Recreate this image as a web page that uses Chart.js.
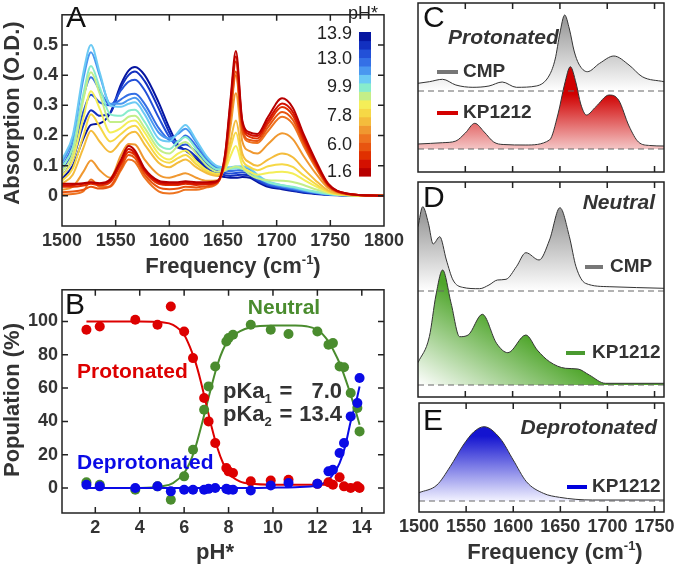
<!DOCTYPE html>
<html>
<head>
<meta charset="utf-8">
<script src="https://cdn.jsdelivr.net/npm/chart.js@4.4.0/dist/chart.umd.min.js"></script>
<style>
body { margin: 0; background: #fff; width: 680px; height: 567px; position: relative; overflow: hidden; }
.box { position: absolute; overflow: hidden; }
canvas { position: absolute; }
</style>
</head>
<body>
<div class="box" style="left:0;top:0;width:410px;height:285px"><canvas id="chartA" width="410" height="285" style="left:0;top:0"></canvas></div>
<div class="box" style="left:0;top:275px;width:410px;height:292px"><canvas id="chartB" width="410" height="292" style="left:0;top:0"></canvas></div>
<div class="box" style="left:410px;top:0;width:270px;height:178px"><canvas id="chartC" width="270" height="178" style="left:0;top:0"></canvas></div>
<div class="box" style="left:410px;top:178px;width:270px;height:222px"><canvas id="chartD" width="270" height="222" style="left:0;top:0"></canvas></div>
<div class="box" style="left:395px;top:400px;width:285px;height:167px"><canvas id="chartE" width="285" height="167" style="left:0;top:0"></canvas></div>
<script>
const FONT = '"Liberation Sans", Arial, Helvetica, sans-serif';

// ---- A: absorption spectra at each pH*
const freqA = [1500,1510,1520,1527,1535,1545,1555,1562,1568,1577,1590,1600,1608,1615,1625,1635,1645,1652,1657,1662,1668,1675,1682,1692,1705,1715,1725,1736,1748,1765,1800];
const pHA = [1.6, 2.2, 3.8, 4.8, 5.4, 6.0, 6.4, 6.6, 6.9, 7.4, 8.9, 9.9, 12.4, 13.0, 13.2, 13.7, 13.9];
const colorsA = ['#b80000','#d41000','#e03000','#e85510','#ee7420','#f09830','#f4bc3c','#f6d846','#f4ee58','#c4ee88','#88eccc','#6ccaf4','#4a98f0','#3470e6','#2250d8','#1230c0','#0616a0'];
const absA = [
  [.040,.040,.042,.045,.042,.055,.120,.165,.150,.090,.050,.045,.045,.048,.045,.045,.050,.140,.320,.480,.250,.210,.205,.262,.323,.292,.205,.120,.040,.008,0],
  [.035,.036,.040,.044,.040,.050,.112,.155,.142,.085,.045,.040,.040,.044,.040,.040,.048,.135,.308,.462,.243,.203,.198,.250,.306,.278,.195,.114,.038,.008,0],
  [.030,.030,.034,.040,.035,.045,.105,.145,.135,.080,.040,.036,.036,.040,.036,.038,.046,.130,.296,.445,.235,.195,.190,.240,.294,.266,.186,.108,.036,.007,0],
  [.012,.014,.020,.030,.024,.032,.092,.135,.125,.070,.028,.022,.024,.030,.028,.032,.044,.122,.274,.412,.218,.185,.182,.228,.278,.252,.176,.102,.034,.007,0],
  [.004,.006,.015,.054,.030,.030,.085,.120,.112,.060,.015,.008,.012,.020,.020,.028,.042,.120,.266,.400,.212,.178,.175,.215,.262,.238,.166,.096,.032,.006,0],
  [.020,.030,.080,.117,.085,.060,.135,.172,.170,.120,.070,.060,.068,.075,.060,.050,.052,.112,.230,.340,.180,.148,.140,.172,.207,.188,.132,.076,.026,.005,0],
  [.040,.070,.160,.216,.180,.145,.180,.205,.212,.170,.110,.095,.110,.120,.095,.075,.066,.104,.182,.250,.140,.110,.100,.120,.140,.128,.090,.052,.018,.004,0],
  [.050,.090,.200,.270,.230,.180,.205,.225,.232,.190,.125,.110,.125,.135,.105,.080,.070,.096,.160,.210,.120,.095,.085,.098,.105,.096,.068,.040,.014,.003,0],
  [.065,.120,.260,.347,.290,.210,.225,.245,.250,.210,.140,.120,.140,.150,.115,.085,.072,.088,.132,.165,.100,.080,.070,.076,.080,.074,.054,.032,.012,.003,0],
  [.080,.140,.320,.410,.340,.245,.245,.262,.265,.225,.155,.140,.165,.178,.140,.100,.080,.085,.092,.097,.090,.070,.058,.052,.050,.046,.036,.022,.009,.002,0],
  [.095,.160,.340,.430,.360,.270,.265,.282,.285,.245,.170,.155,.180,.195,.155,.112,.088,.088,.090,.092,.090,.080,.062,.045,.035,.030,.022,.014,.006,.002,0],
  [.120,.200,.410,.500,.410,.300,.295,.305,.310,.270,.190,.180,.210,.235,.185,.130,.098,.095,.095,.097,.098,.092,.070,.048,.035,.028,.020,.012,.006,.002,0],
  [.110,.190,.390,.476,.400,.305,.305,.318,.325,.288,.210,.190,.205,.222,.178,.125,.095,.090,.090,.092,.094,.088,.066,.044,.032,.025,.018,.011,.005,.002,0],
  [.095,.170,.330,.393,.350,.300,.320,.335,.338,.305,.225,.185,.180,.200,.165,.118,.090,.084,.082,.084,.086,.080,.060,.040,.030,.023,.016,.010,.005,.002,0],
  [.080,.145,.280,.335,.310,.300,.350,.378,.385,.350,.260,.195,.165,.170,.145,.105,.082,.076,.074,.076,.078,.072,.054,.036,.027,.020,.014,.009,.004,.002,0],
  [.065,.120,.235,.284,.265,.275,.360,.400,.412,.380,.290,.210,.160,.155,.130,.095,.075,.068,.066,.068,.070,.066,.050,.034,.025,.018,.012,.008,.004,.001,0],
  [.055,.100,.190,.235,.240,.275,.370,.415,.427,.400,.310,.225,.170,.150,.122,.088,.068,.062,.060,.060,.062,.060,.046,.030,.022,.016,.010,.006,.003,.001,0]
];
const freqTicksA = [1500, 1550, 1600, 1650, 1700, 1750, 1800];
const absTicksA = [0, 0.1, 0.2, 0.3, 0.4, 0.5];
const barLabels = ['13.9', '13.0', '9.9', '7.8', '6.0', '1.6'];

// ---- B: populations vs pH*
const phPoints = [1.6, 2.2, 3.8, 4.8, 5.4, 6.0, 6.4, 6.9, 7.1, 7.4, 7.9, 8.0, 8.2, 9.0, 9.9, 10.7, 12.0, 12.5, 12.7, 13.0, 13.2, 13.5, 13.8, 13.9];
const protPts = [95, 97, 101, 98, 109, 94, 78, 54, 40, 27, 12, 10, 9, 4, 4.5, 5, 2.5, 3.5, 2, 6.5, 1, 0, 1, 0];
const neutPts = [3.5, 2, -1, 1, -7, 7, 23, 47, 61, 73, 88, 90, 92, 98, 95, 92.5, 94, 86, 87, 73, 72.5, 57, 48, 34];
const deprPts = [2, 1, 0, 1, -2, -1, -1, -1, -0.5, 0, -0.5, -1, -1, -1.5, 1.5, 3, 2.5, 10, 11, 21, 27, 43, 51, 66];
const fitPH = [1.6, 3, 4, 5, 5.5, 6, 6.25, 6.5, 6.75, 7, 7.25, 7.5, 7.75, 8, 8.5, 9, 10, 11, 12, 12.5, 12.75, 13, 13.25, 13.5, 13.75, 13.9];
const protFit = [100, 100, 100, 99.5, 98, 92, 85, 76, 64, 50, 36, 24, 15, 9, 4, 2.5, 2, 2, 2, 2, 2, null, null, null, null, null];
const neutFit = [0, 0, 0, 1, 3, 9, 15, 24, 36, 49, 62, 74, 83, 89, 94, 96.5, 97.5, 97.5, 95, 88, 82, 75, 66, 56, 45, 38];
const deprFit = [0, 0, 0, 0, 0, 0, 0, 0, 0, 0, 0, 0, 0, 0, 0, 0, 0.2, 0.5, 1.5, 5, 9, 15, 25, 40, 52, 61];
const phTicks = [2, 4, 6, 8, 10, 12, 14];
const popTicks = [0, 20, 40, 60, 80, 100];

// ---- C, D, E: reference spectra (height above each baseline)
const cmpProtFreq = [1500, 1512, 1526, 1540, 1558, 1575, 1589, 1604, 1625, 1639, 1645, 1650, 1655, 1660, 1665, 1670, 1679, 1692, 1707, 1723, 1737, 1760];
const cmpProtAbs = [0.077, 0.093, 0.117, 0.06, 0.037, 0.05, 0.09, 0.037, 0.05, 0.16, 0.32, 0.58, 0.76, 0.62, 0.40, 0.27, 0.193, 0.277, 0.35, 0.26, 0.143, 0.093];
const kpProtFreq = [1500, 1526, 1540, 1550, 1560, 1570, 1580, 1590, 1614, 1639, 1648, 1655, 1661, 1667, 1672, 1678, 1688, 1702, 1712, 1723, 1733, 1745, 1760];
const kpProtAbs = [0.05, 0.063, 0.08, 0.16, 0.257, 0.17, 0.07, 0.045, 0.04, 0.09, 0.35, 0.65, 0.823, 0.66, 0.45, 0.34, 0.423, 0.54, 0.49, 0.23, 0.07, 0.035, 0.03];
const cmpNeutFreq = [1500, 1505, 1511, 1516, 1523, 1530, 1537, 1547, 1565, 1575, 1584, 1593, 1604, 1614, 1628, 1639, 1650, 1660, 1667, 1677, 1702, 1760];
const cmpNeutAbs = [0.643, 0.843, 0.677, 0.47, 0.543, 0.31, 0.11, 0.037, 0.023, 0.06, 0.11, 0.117, 0.243, 0.383, 0.31, 0.51, 0.833, 0.543, 0.243, 0.077, 0.043, 0.027];
const kpNeutFreq = [1500, 1512, 1519, 1526, 1535, 1544, 1553, 1568, 1583, 1595, 1614, 1626, 1639, 1656, 1669, 1681, 1698, 1760];
const kpNeutAbs = [0.223, 0.483, 0.9, 1.15, 0.817, 0.483, 0.5, 0.707, 0.417, 0.323, 0.5, 0.35, 0.233, 0.167, 0.16, 0.1, 0.017, 0.017];
const kpDeprFreq = [1500, 1519, 1533, 1547, 1558, 1569, 1586, 1600, 1614, 1632, 1649, 1684, 1760];
const kpDeprAbs = [0.083, 0.16, 0.343, 0.56, 0.69, 0.743, 0.627, 0.41, 0.193, 0.077, 0.037, 0.01, 0.01];
const freqTicksR = [1500, 1550, 1600, 1650, 1700, 1750];

Chart.defaults.font.family = FONT;
Chart.defaults.color = '#333';

// box round the plot with inward ticks
function frame(xTicks, yTicks) {
  return {
    id: 'frame',
    afterDraw(chart) {
      const { ctx, chartArea: a, scales } = chart;
      ctx.save();
      ctx.strokeStyle = '#222';
      ctx.lineWidth = 1.5;
      ctx.beginPath();
      xTicks.forEach(v => {
        const px = scales.x.getPixelForValue(v);
        ctx.moveTo(px, a.top); ctx.lineTo(px, a.top + 6);
        ctx.moveTo(px, a.bottom); ctx.lineTo(px, a.bottom - 6);
      });
      yTicks.forEach(v => {
        const py = scales.y.getPixelForValue(v);
        ctx.moveTo(a.left, py); ctx.lineTo(a.left + 6, py);
        ctx.moveTo(a.right, py); ctx.lineTo(a.right - 6, py);
      });
      ctx.stroke();
      ctx.strokeRect(a.left, a.top, a.right - a.left, a.bottom - a.top);
      ctx.restore();
    }
  };
}

// free text, sub/superscripts and legend dashes (page coordinates)
function textLayer(items, ox, oy) {
  return {
    id: 'textLayer',
    afterDraw(chart) {
      const ctx = chart.ctx;
      items.forEach(it => {
        ctx.save();
        ctx.translate(it.x - ox, it.y - oy);
        if (it.rot) ctx.rotate(it.rot);
        if (it.dash) {
          ctx.strokeStyle = it.color;
          ctx.lineWidth = 4;
          ctx.beginPath(); ctx.moveTo(0, 0); ctx.lineTo(it.dash, 0); ctx.stroke();
          ctx.restore();
          return;
        }
        ctx.fillStyle = it.color || '#333';
        ctx.textBaseline = 'middle';
        const parts = it.parts || [[it.text, it.font, 0]];
        let w = 0;
        parts.forEach(p => { ctx.font = p[1] + ' ' + FONT; w += ctx.measureText(p[0]).width; });
        let x = it.align === 'center' ? -w / 2 : it.align === 'right' ? -w : 0;
        parts.forEach(p => {
          ctx.font = p[1] + ' ' + FONT;
          ctx.fillText(p[0], x, p[2] || 0);
          x += ctx.measureText(p[0]).width;
        });
        ctx.restore();
      });
    }
  };
}

const colorBar = {
  id: 'colorBar',
  afterDraw(chart) {
    const ctx = chart.ctx, x = 359, top = 32, w = 12, h = 144;
    const bh = h / colorsA.length;
    colorsA.forEach((c, i) => {
      ctx.fillStyle = c;
      ctx.fillRect(x, top + h - (i + 1) * bh, w, bh + 0.6);
    });
  }
};

const freqTitle = (x, y) => ({ x, y, align: 'center', parts: [['Frequency (cm', 'bold 22px', 0], ['-1', 'bold 13px', -7], [')', 'bold 22px', 0]] });

function tickAxis(min, max, ticks, size, pad, fmt) {
  return {
    type: 'linear', min, max,
    grid: { display: false, drawTicks: false },
    border: { display: false },
    afterBuildTicks: s => { s.ticks = ticks.map(v => ({ value: v })); },
    ticks: { padding: pad, autoSkip: false, maxRotation: 0, color: '#333', font: { size: 18, weight: 'bold' }, callback: fmt || (v => String(v)) },
    afterFit: s => { if (s.isHorizontal()) s.height = size; else s.width = size; }
  };
}

const base = { responsive: false, animation: false, plugins: { legend: { display: false }, tooltip: { enabled: false } } };

// ---- chart A
const textsA = [
  { text: 'A', font: '30px', x: 66, y: 19, color: '#111' },
  { text: 'pH*', font: '18px', x: 363, y: 14, align: 'center', color: '#222' },
  ...barLabels.map((t, i) => ({ text: t, font: '18px', x: 352, y: [34, 59, 87, 116, 145, 172][i], align: 'right', color: '#222' })),
  { text: 'Absorption (O.D.)', font: 'bold 22px', x: 13, y: 113, align: 'center', rot: -Math.PI / 2 },
  freqTitle(233, 267)
];
new Chart(document.getElementById('chartA'), {
  type: 'line',
  data: {
    datasets: absA.map((row, i) => ({
      label: 'pH* ' + pHA[i],
      data: freqA.map((f, j) => ({ x: f, y: row[j] })),
      borderColor: colorsA[i], borderWidth: 2, pointRadius: 0,
      cubicInterpolationMode: 'monotone', fill: false
    }))
  },
  options: Object.assign({}, base, {
    layout: { padding: { left: 0, right: 26, top: 3, bottom: 0 } },
    scales: {
      x: tickAxis(1500, 1800, freqTicksA, 59, 4),
      y: tickAxis(-0.1, 0.6, absTicksA, 62, 4, v => v === 0 ? '0' : v.toFixed(1))
    }
  }),
  plugins: [colorBar, frame(freqTicksA.slice(1, -1), absTicksA), textLayer(textsA, 0, 0)]
});

// ---- chart B
const RED = '#dd0000', GREEN = '#4a8c2e', BLUE = '#0a0ae6';
const pts = (ys, c) => ({ data: phPoints.map((p, i) => ({ x: p, y: ys[i] })), showLine: false, pointRadius: 5, pointBackgroundColor: c, pointBorderWidth: 0, borderColor: c });
const fitLine = (ys, c) => ({ data: fitPH.map((p, i) => ({ x: p, y: ys[i] })), borderColor: c, borderWidth: 2, pointRadius: 0, cubicInterpolationMode: 'monotone', spanGaps: false });
const textsB = [
  { text: 'B', font: '30px', x: 65, y: 306, color: '#111' },
  { text: 'Neutral', font: 'bold 21px', x: 284, y: 308, align: 'center', color: GREEN },
  { text: 'Protonated', font: 'bold 21px', x: 77, y: 372, color: RED },
  { text: 'Deprotonated', font: 'bold 21px', x: 77, y: 463, color: BLUE },
  { x: 223, y: 392, parts: [['pKa', 'bold 22px', 0], ['1', 'bold 13px', 7]] },
  { text: '=', font: 'bold 22px', x: 286, y: 392, align: 'center' },
  { text: '7.0', font: 'bold 22px', x: 342, y: 392, align: 'right' },
  { x: 223, y: 415, parts: [['pKa', 'bold 22px', 0], ['2', 'bold 13px', 7]] },
  { text: '=', font: 'bold 22px', x: 286, y: 415, align: 'center' },
  { text: '13.4', font: 'bold 22px', x: 342, y: 415, align: 'right' },
  { text: 'Population (%)', font: 'bold 22px', x: 13, y: 400, align: 'center', rot: -Math.PI / 2 },
  { text: 'pH*', font: 'bold 22px', x: 215, y: 553, align: 'center' }
];
new Chart(document.getElementById('chartB'), {
  type: 'line',
  data: {
    datasets: [
      pts(deprPts, BLUE), pts(protPts, RED), pts(neutPts, GREEN),
      fitLine(deprFit, BLUE), fitLine(protFit, RED), fitLine(neutFit, GREEN)
    ]
  },
  options: Object.assign({}, base, {
    layout: { padding: { left: 0, right: 26, top: 14, bottom: 0 } },
    scales: {
      x: tickAxis(0.5, 15, phTicks, 54, 4),
      y: tickAxis(-15, 119, popTicks, 62, 4)
    }
  }),
  plugins: [frame(phTicks, popTicks), textLayer(textsB, 0, 275)]
});

// ---- right panels
function vGrad(offset, height, top, bottom) {
  return ctx => {
    const c = ctx.chart;
    if (!c.chartArea) return bottom;
    const y = c.scales.y;
    const g = c.ctx.createLinearGradient(0, y.getPixelForValue(offset + height), 0, y.getPixelForValue(offset));
    g.addColorStop(0, top);
    g.addColorStop(1, bottom);
    return g;
  };
}
function greenGrad(ctx) {
  const c = ctx.chart;
  if (!c.chartArea) return '#6ab44a';
  const a = c.chartArea, y0 = c.scales.y.getPixelForValue(0);
  const g = c.ctx.createLinearGradient(a.left, y0, a.left + 52, y0 - 85);
  g.addColorStop(0, '#ffffff');
  g.addColorStop(1, '#4ea52a');
  return g;
}
function spectrum(freq, abs, offset, fillColor) {
  return {
    data: freq.map((f, i) => ({ x: f, y: abs[i] + offset })),
    borderColor: '#333', borderWidth: 1, pointRadius: 0,
    cubicInterpolationMode: 'monotone',
    fill: { value: offset }, backgroundColor: fillColor
  };
}
function baseline(offset) {
  return { data: [{ x: 1500, y: offset }, { x: 1760, y: offset }], borderColor: '#666', borderWidth: 1, borderDash: [6, 4], pointRadius: 0, fill: false };
}
function rightChart(id, yMin, yMax, pad, datasets, texts, ox, oy, showX) {
  const x = showX ? tickAxis(1500, 1760, freqTicksR, 55, 4) : { type: 'linear', min: 1500, max: 1760, display: false };
  return new Chart(document.getElementById(id), {
    type: 'line',
    data: { datasets },
    options: Object.assign({}, base, {
      layout: { padding: pad },
      scales: { x, y: { type: 'linear', min: yMin, max: yMax, display: false } }
    }),
    plugins: [frame(freqTicksR.slice(1), []), textLayer(texts, ox, oy)]
  });
}

const GRAY_TOP = '#9a9a9a';
rightChart('chartC', -0.23, 1.46, { left: 8, right: 16, top: 3, bottom: 6 }, [
  baseline(0.58), baseline(0),
  spectrum(kpProtFreq, kpProtAbs, 0, vGrad(0, 0.55, '#d00000', '#f4c6c6')),
  spectrum(cmpProtFreq, cmpProtAbs, 0.58, vGrad(0.58, 0.7, GRAY_TOP, '#ffffff'))
], [
  { text: 'C', font: '30px', x: 423, y: 19, color: '#111' },
  { text: 'Protonated', font: 'italic bold 21px', x: 448, y: 38 },
  { dash: 21, x: 437, y: 72, color: '#777' },
  { text: 'CMP', font: 'bold 19px', x: 463, y: 72 },
  { dash: 21, x: 437, y: 113, color: '#d40000' },
  { text: 'KP1212', font: 'bold 19px', x: 463, y: 113 }
], 410, 0, false);

rightChart('chartD', -0.12, 2.03, { left: 8, right: 16, top: 4, bottom: 3 }, [
  baseline(0.94), baseline(0),
  spectrum(kpNeutFreq, kpNeutAbs, 0, greenGrad),
  spectrum(cmpNeutFreq, cmpNeutAbs, 0.94, vGrad(0.94, 0.75, GRAY_TOP, '#ffffff'))
], [
  { text: 'D', font: '30px', x: 423, y: 199, color: '#111' },
  { text: 'Neutral', font: 'italic bold 21px', x: 655, y: 203, align: 'right' },
  { dash: 18, x: 585, y: 267, color: '#777' },
  { text: 'CMP', font: 'bold 19px', x: 610, y: 267 },
  { dash: 19, x: 566, y: 353, color: '#4a9a30' },
  { text: 'KP1212', font: 'bold 19px', x: 592, y: 353 }
], 410, 178, false);

rightChart('chartE', -0.11, 0.98, { left: 23, right: 16, top: 3, bottom: 0 }, [
  baseline(0),
  spectrum(kpDeprFreq, kpDeprAbs, 0, vGrad(0, 0.65, '#1414d0', '#f2f2ff'))
], [
  { text: 'E', font: '30px', x: 423, y: 422, color: '#111' },
  { text: 'Deprotonated', font: 'italic bold 21px', x: 657, y: 428, align: 'right' },
  { dash: 20, x: 567, y: 487, color: '#0000dd' },
  { text: 'KP1212', font: 'bold 19px', x: 592, y: 487 },
  freqTitle(555, 553)
], 395, 400, true);
</script>
</body>
</html>
